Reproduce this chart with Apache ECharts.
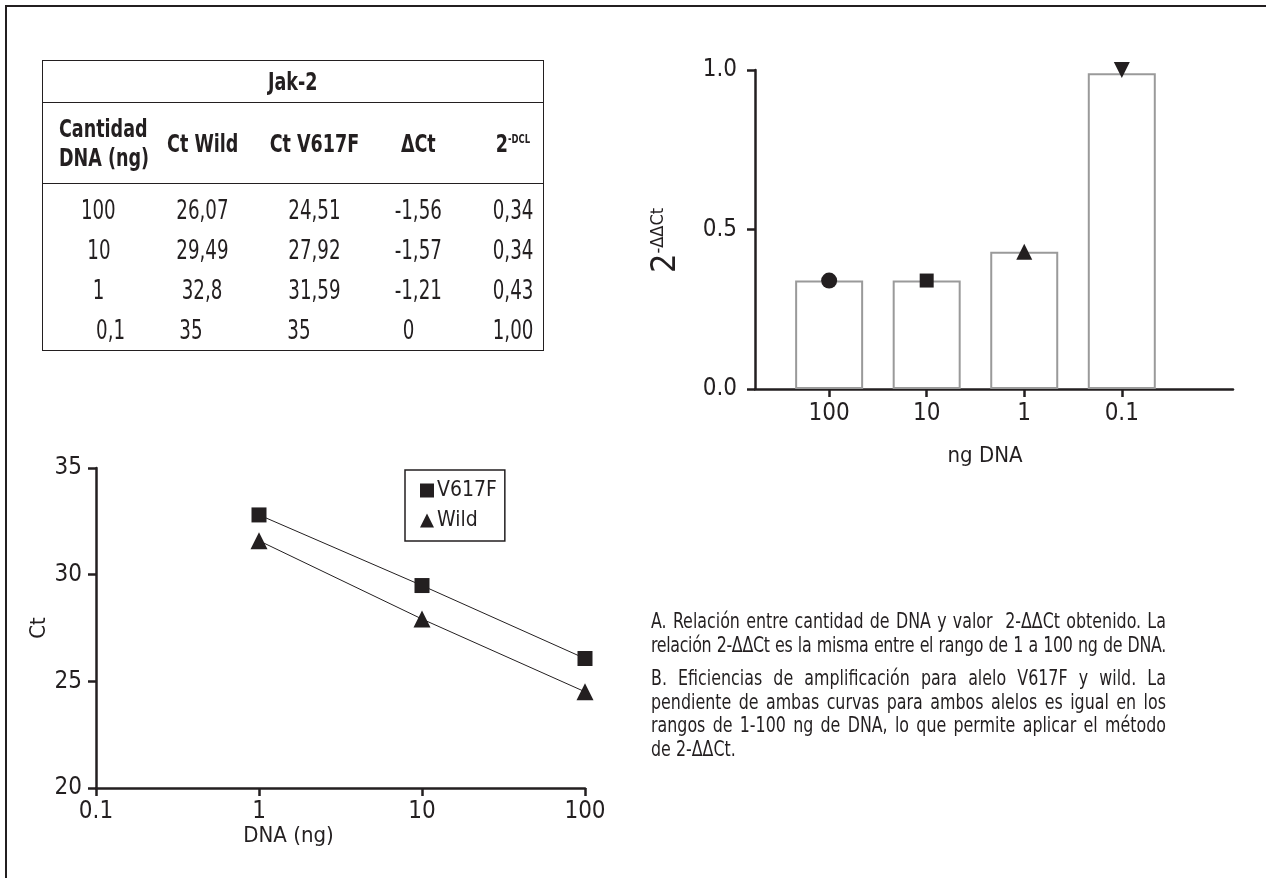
<!DOCTYPE html>
<html>
<head>
<meta charset="utf-8">
<script src="https://cdn.jsdelivr.net/npm/echarts@6/dist/echarts.min.js"></script>
<style>
  html, body { margin: 0; padding: 0; background: #fff; }
  body { width: 1266px; height: 878px; position: relative; overflow: hidden;
         font-family: "Liberation Sans Narrow", "DejaVu Sans Condensed", "Roboto Condensed", "Liberation Sans", sans-serif; color: #231f20; }
  #frame { position: absolute; left: 5px; top: 5px; right: -10px; bottom: -10px;
           border-top: 2px solid #231f20; border-left: 2px solid #231f20; }
  #chart { position: absolute; left: 0; top: 0; width: 1266px; height: 878px; }
  #tbl { position: absolute; left: 42px; top: 60px; width: 501px; border-collapse: collapse; table-layout: fixed;
         border: 1.5px solid #231f20; font-size: 25px; }
  #tbl th { font-weight: bold; padding: 0; }
  #tbl td { padding: 0; height: 40px; text-align: center; font-size: 26px; }
  #tbl .sx { display: inline-block; transform: scaleX(0.78); white-space: nowrap; }
  #tbl .title th { height: 41px; border-bottom: 1.5px solid #231f20; }
  #tbl .head th { height: 80px; border-bottom: 1.5px solid #231f20; }
  #tbl .head th:first-child .sx { text-align: left; line-height: 29px; transform-origin: left center; }
  #tbl .head th:first-child { text-align: left; padding-left: 16px; }
  #tbl tbody tr:first-child td { padding-top: 6px; }
  #tbl sup { font-size: 12px; vertical-align: 9px; }
  #notes { position: absolute; left: 651px; top: 610px; width: 613px; font-size: 21px;
           line-height: 23.5px; transform: scaleX(0.84); transform-origin: left top; }
  #notes .ln { display: block; white-space: nowrap; text-align: justify; text-align-last: justify; }
  #notes .ln.tight { letter-spacing: -0.4px; word-spacing: -1px; }
  #notes .ln.end { text-align-last: left; }
  #notes .gap { height: 10px; }
</style>
</head>
<body>
<div id="frame"></div>
<div id="chart"></div>
<table id="tbl">
  <colgroup><col style="width:112px"><col style="width:96px"><col style="width:128px"><col style="width:80px"><col style="width:85px"></colgroup>
  <thead>
    <tr class="title"><th colspan="5"><span class="sx">Jak-2</span></th></tr>
    <tr class="head" id="headRow"></tr>
  </thead>
  <tbody id="bodyRows"></tbody>
</table>
<div id="notes">
  <span class="ln">A. Relación entre cantidad de DNA y valor &nbsp;2-ΔΔCt obtenido. La</span>
  <span class="ln tight">relación 2-ΔΔCt es la misma entre el rango de 1 a 100 ng de DNA.</span>
  <div class="gap"></div>
  <span class="ln">B. Eficiencias de amplificación para alelo V617F y wild. La</span>
  <span class="ln">pendiente de ambas curvas para ambos alelos es igual en los</span>
  <span class="ln">rangos de 1-100 ng de DNA, lo que permite aplicar el método</span>
  <span class="ln end">de 2-ΔΔCt.</span>
</div>
<script>
// tabla
const tableHeader = ['Cantidad<br>DNA (ng)', 'Ct Wild', 'Ct V617F', 'ΔCt', '2<sup>-DCL</sup>'];
const tableRows = [
  ['100', '26,07', '24,51', '-1,56', '0,34'],
  ['10', '29,49', '27,92', '-1,57', '0,34'],
  ['1', '32,8', '31,59', '-1,21', '0,43'],
  ['0,1', '35', '35', '0', '1,00']
];

// grafico A (barras)
const barCategories = ['100', '10', '1', '0.1'];
const barValues = [0.34, 0.34, 0.43, 0.99];
const markerValues = [0.34, 0.34, 0.43, 1.0];
const markerSymbols = ['circle', 'rect', 'triangle', 'triangle'];
const markerRotate = [0, 0, 0, 180];

// grafico B (eficiencias)
const dnaNg = [1, 10, 100];
const ctV617F = [32.8, 29.49, 26.07];
const ctWild = [31.59, 27.92, 24.51];

// desplazamiento de cada columna (la ultima fila esta corrida en el original)
const colShift = [0, 0, 0, 0, 24]
const lastRowShift = [24, -24, -32, -20, 24]

document.getElementById('headRow').innerHTML = tableHeader.map((h, j) =>
  '<th style="padding-left:' + (j === 0 ? 16 : colShift[j]) + 'px"><span class="sx">' + h + '</span></th>').join('')
document.getElementById('bodyRows').innerHTML = tableRows.map((r, i) => {
  const shift = i === tableRows.length - 1 ? lastRowShift : colShift
  return '<tr>' + r.map((c, j) => {
    const s = shift[j]
    const pad = s >= 0 ? 'padding-left:' + s + 'px' : 'padding-right:' + (-s) + 'px'
    return '<td style="' + pad + '"><span class="sx">' + c + '</span></td>'
  }).join('') + '</tr>'
}).join('')

const font = '"Liberation Sans Narrow", "DejaVu Sans Condensed", "Roboto Condensed", "Liberation Sans", sans-serif'
const ink = '#231f20'

const myChart = echarts.init(document.getElementById('chart'))

const axisBase = {
  axisLine: { show: true, onZero: false, lineStyle: { color: ink, width: 2.5 } },
  axisTick: { show: true, length: 8, lineStyle: { color: ink, width: 2.5 } },
  axisLabel: { color: ink, fontSize: 24, fontFamily: font },
  splitLine: { show: false },
  nameTextStyle: { color: ink, fontSize: 22, fontFamily: font }
}

const option = {
  animation: false,
  textStyle: { fontFamily: font, color: ink },
  grid: [
    { left: 755, top: 70, width: 478, height: 319 },
    { left: 96, top: 468, width: 489, height: 320 }
  ],
  legend: {
    data: [{ name: 'V617F', icon: 'rect' }, { name: 'Wild', icon: 'triangle' }],
    orient: 'vertical',
    left: 405,
    top: 470,
    padding: [10, 8, 10, 15],
    itemGap: 9,
    itemWidth: 14,
    itemHeight: 14,
    borderColor: ink,
    borderWidth: 1.5,
    textStyle: { fontSize: 21, color: ink, fontFamily: font, padding: [0, 0, 0, -2] }
  },
  xAxis: [
    {
      ...axisBase,
      gridIndex: 0,
      type: 'value',
      min: -0.76,
      max: 4.14,
      name: 'ng DNA',
      nameLocation: 'middle',
      nameGap: 56,
      nameTextStyle: { ...axisBase.nameTextStyle, padding: [0, 18, 0, 0] },
      axisTick: { ...axisBase.axisTick, customValues: [0, 1, 2, 3] },
      axisLabel: { ...axisBase.axisLabel, margin: 13, customValues: [0, 1, 2, 3], formatter: v => barCategories[v] }
    },
    {
      ...axisBase,
      gridIndex: 1,
      type: 'log',
      logBase: 10,
      min: 0.1,
      max: 100,
      name: 'DNA (ng)',
      nameLocation: 'middle',
      nameGap: 36,
      nameTextStyle: { ...axisBase.nameTextStyle, padding: [0, 104, 0, 0] },
      axisLabel: { ...axisBase.axisLabel, margin: 12, showMinLabel: true, formatter: v => String(v) }
    }
  ],
  yAxis: [
    {
      ...axisBase,
      gridIndex: 0,
      type: 'value',
      min: 0,
      max: 1,
      interval: 0.5,
      name: '{b|2}{s|-ΔΔCt}',
      nameLocation: 'middle',
      nameGap: 72,
      nameTextStyle: {
        padding: [0, 22, 0, 0],
        rich: {
          b: { fontSize: 34, color: ink, fontFamily: font, verticalAlign: 'bottom', lineHeight: 34 },
          s: { fontSize: 18, color: ink, fontFamily: font, verticalAlign: 'top', lineHeight: 34, padding: [0, 0, 8, 0] }
        }
      },
      axisLabel: { ...axisBase.axisLabel, margin: 18, formatter: v => v.toFixed(1) }
    },
    {
      ...axisBase,
      gridIndex: 1,
      type: 'value',
      min: 20,
      max: 35,
      interval: 5,
      name: 'Ct',
      nameLocation: 'middle',
      nameGap: 38,
      axisLabel: { ...axisBase.axisLabel, margin: 14 }
    }
  ],
  series: [
    {
      type: 'bar',
      xAxisIndex: 0,
      yAxisIndex: 0,
      barWidth: 68,
      itemStyle: { color: '#fff', borderColor: '#9a9a9a', borderWidth: 2 },
      data: barValues.map((v, i) => [i, v])
    },
    {
      type: 'scatter',
      xAxisIndex: 0,
      yAxisIndex: 0,
      itemStyle: { color: ink, opacity: 1 },
      data: markerValues.map((v, i) => ({
        value: [i, v],
        symbol: markerSymbols[i],
        symbolRotate: markerRotate[i],
        symbolSize: markerSymbols[i] === 'rect' ? 14 : 16
      }))
    },
    {
      name: 'V617F',
      type: 'line',
      xAxisIndex: 1,
      yAxisIndex: 1,
      symbol: 'rect',
      symbolSize: 15,
      lineStyle: { color: ink, width: 1 },
      itemStyle: { color: ink },
      data: dnaNg.map((x, i) => [x, ctV617F[i]])
    },
    {
      name: 'Wild',
      type: 'line',
      xAxisIndex: 1,
      yAxisIndex: 1,
      symbol: 'triangle',
      symbolSize: 17,
      lineStyle: { color: ink, width: 1 },
      itemStyle: { color: ink },
      data: dnaNg.map((x, i) => [x, ctWild[i]])
    }
  ]
}
myChart.setOption(option)
</script>
</body>
</html>
